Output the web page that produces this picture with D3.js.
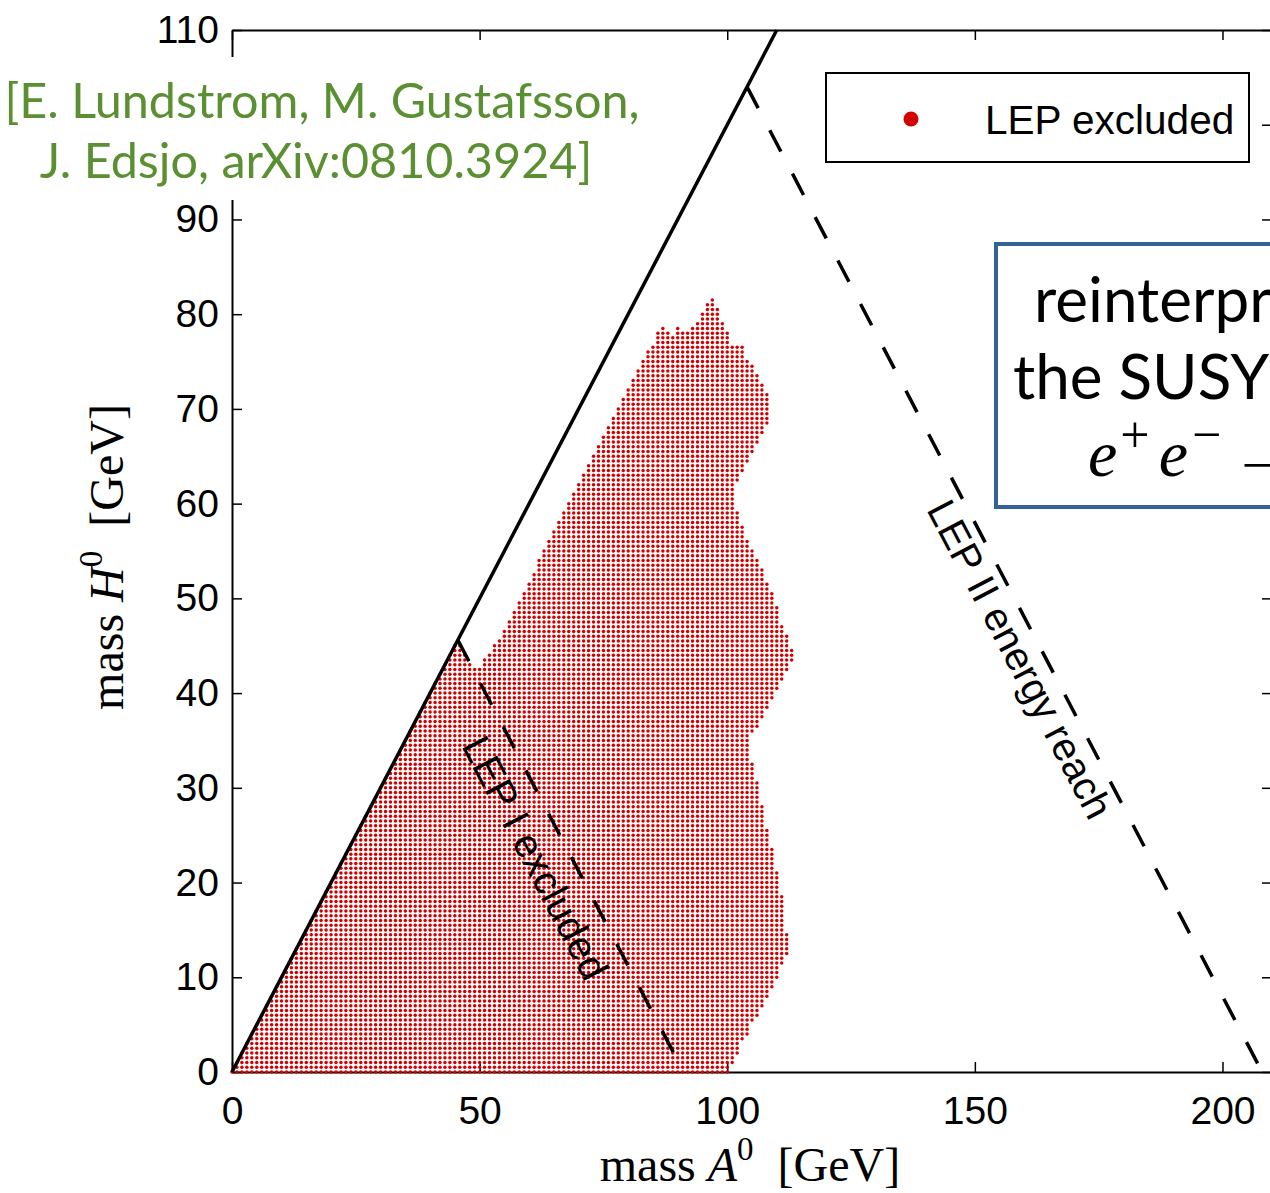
<!DOCTYPE html>
<html>
<head>
<meta charset="utf-8">
<script src="https://cdn.jsdelivr.net/npm/d3@7"></script>
<style>
  body { margin: 0; background: #fff; }
  svg { display: block; }
  .tick text { font-family: "Liberation Sans", Arial, sans-serif; font-size: 39px; fill: #000; }
</style>
</head>
<body>
<div id="chart"></div>
<script>
// chart size
let width = 1270;
let height = 1193;

// axes data
let xTicks = [0, 50, 100, 150, 200];
let yTicks = [0, 10, 20, 30, 40, 50, 60, 70, 80, 90, 100, 110];

// outline of the LEP excluded scan region, [mass A0, mass H0] in GeV
let bottomEdge = [[-0.3, 0], [100.3, 0]];
let rightEdge = [
  [101.3, 1], [102.3, 2], [102.8, 3], [104.3, 4], [104.8, 5], [106.3, 6], [107.3, 7],
  [108.3, 8], [109.3, 9], [110.3, 10], [110.8, 11], [111.8, 12], [112.3, 13], [112.6, 14],
  [112.0, 15], [112.0, 16], [111.3, 17], [111.3, 18], [110.8, 19], [110.6, 20], [110.3, 21],
  [109.7, 22], [109.3, 23], [108.9, 24], [108.3, 25], [107.9, 26], [107.6, 27], [107.1, 28],
  [106.9, 29], [106.6, 30], [105.9, 31], [105.5, 32], [104.9, 33], [104.3, 34], [104.5, 35],
  [105.5, 36], [106.6, 37], [107.6, 38], [108.6, 39], [109.6, 40], [110.6, 41], [111.9, 42],
  [112.9, 43], [113.3, 44], [113.0, 45], [112.3, 46], [111.3, 47], [110.6, 48], [110.1, 49],
  [109.6, 50], [108.7, 51], [107.9, 52], [107.3, 53], [106.3, 54], [105.3, 55], [104.3, 56],
  [103.4, 57], [102.9, 58], [102.1, 59], [101.9, 60], [101.5, 61], [101.9, 62], [102.8, 63],
  [103.7, 64], [104.9, 65], [105.9, 66], [106.9, 67], [107.9, 68], [108.9, 69], [108.9, 70],
  [108.9, 71], [107.9, 72], [106.9, 73], [105.9, 74], [104.9, 75]
];
let topEdge = [
  [103.3, 75.8], [103.3, 76.7], [100.3, 76.8], [100.3, 78.2], [99.3, 78.7], [99.3, 79.2],
  [98.3, 79.4], [98.3, 80.7], [97.3, 80.8], [97.3, 81.7], [96.7, 81.7], [95.7, 81.1],
  [95.7, 80.7], [94.7, 80.2], [94.7, 79.7], [93.7, 79.2], [92.7, 78.7], [92.2, 78.2],
  [91.3, 78.2], [90.3, 78.7], [89.7, 78.7], [89.5, 77.8], [88.4, 78.2], [87.3, 78.7],
  [86.7, 78.7], [85.7, 77.7]
];
let leftEdge = [
  [85.7, 77.2], [83.7, 76.2], [82.7, 75], [74.0, 66], [62.0, 54], [58.2, 50],
  [54.6, 46.3], [52.2, 44.6], [50.4, 43], [49.6, 42.2]
];
let notchEdge = [[48.6, 42.7], [47.2, 44], [46.1, 45.1], [45.6, 45.9]];

// grid spacing of the scan points
let stepA = 1;
let stepH = 0.5;

// lines: kinematic edge, LEP I (Z mass) and LEP II (208 GeV) reach
let kinLine = [[0, 0], [110, 110]];
let lepI = [[45.6, 45.6], [91.2, 0]];
let lepII = [[104, 104], [208, 0]];

// scales
let xScale = d3.scaleLinear().domain([0, 210]).range([232, 1272]);
let yScale = d3.scaleLinear().domain([0, 110]).range([1072, 30]);

let svg = d3.select("#chart")
  .append("svg")
  .attr("width", width)
  .attr("height", height);

//-------  axes box -------------------------
function styleAxis(g) {
  g.select(".domain").attr("stroke", "#000").attr("stroke-width", 2);
  g.selectAll(".tick line").attr("stroke", "#000").attr("stroke-width", 1.5);
}

svg.append("g")
  .attr("transform", "translate(0," + yScale(0) + ")")
  .call(d3.axisBottom(xScale).tickValues(xTicks).tickSize(-10).tickSizeOuter(0).tickPadding(24))
  .call(styleAxis);

svg.append("g")
  .attr("transform", "translate(0," + yScale(110) + ")")
  .call(d3.axisTop(xScale).tickValues(xTicks).tickSize(-10).tickSizeOuter(0).tickFormat(""))
  .call(styleAxis);

// the 100 label sits under the reference note, so it is left blank
svg.append("g")
  .attr("transform", "translate(" + xScale(0) + ",0)")
  .call(d3.axisLeft(yScale).tickValues(yTicks).tickSize(-10).tickSizeOuter(0).tickPadding(13)
    .tickFormat(d => d === 100 ? "" : d))
  .call(styleAxis);

svg.append("g")
  .attr("transform", "translate(" + xScale(210) + ",0)")
  .call(d3.axisRight(yScale).tickValues(yTicks).tickSize(-10).tickSizeOuter(0).tickFormat(""))
  .call(styleAxis);

svg.selectAll(".tick text").attr("font-family", null).attr("font-size", null);

//-------  excluded scan points -------------------------
let region = [].concat(bottomEdge, rightEdge, topEdge, leftEdge, notchEdge, [[-0.3, 0]]);
let points = [];
for (let a = 0; a <= 116; a += stepA) {
  for (let k = 0; k * stepH <= 83; k++) {
    let h = k * stepH;
    if (d3.polygonContains(region, [a, h])) points.push([a, h]);
  }
}

svg.append("g")
  .selectAll("circle")
  .data(points)
  .join("circle")
  .attr("cx", d => xScale(d[0]))
  .attr("cy", d => yScale(d[1]))
  .attr("r", 1.75)
  .attr("fill", "#d40000");

//-------  lines -------------------------
function drawLine(seg, dash) {
  svg.append("line")
    .attr("x1", xScale(seg[0][0])).attr("y1", yScale(seg[0][1]))
    .attr("x2", xScale(seg[1][0])).attr("y2", yScale(seg[1][1]))
    .attr("stroke", "#000")
    .attr("stroke-width", 3.5)
    .attr("stroke-dasharray", dash);
}
drawLine(kinLine, null);
drawLine(lepI, "24,25");
drawLine(lepII, "24,25");

// label written along a line, sitting below it
function lineLabel(seg, frac, offset, label) {
  let x0 = xScale(seg[0][0]), y0 = yScale(seg[0][1]);
  let x1 = xScale(seg[1][0]), y1 = yScale(seg[1][1]);
  let len = Math.hypot(x1 - x0, y1 - y0);
  let ux = (x1 - x0) / len, uy = (y1 - y0) / len;
  let ang = Math.atan2(uy, ux) * 180 / Math.PI;
  let px = x0 + (x1 - x0) * frac - offset * uy;
  let py = y0 + (y1 - y0) * frac + offset * ux;
  svg.append("text")
    .attr("transform", "translate(" + px + "," + py + ")rotate(" + ang + ")")
    .attr("text-anchor", "middle")
    .attr("font-family", "Liberation Sans, Arial, sans-serif")
    .attr("font-size", 40)
    .text(label);
}
lineLabel(lepI, 0.47, 46, "LEP I excluded");
lineLabel(lepII, 0.57, 37, "LEP II energy reach");

//-------  axis titles -------------------------
function axisTitle(g, symbol) {
  g.attr("text-anchor", "middle")
    .attr("font-family", "Liberation Serif, Times New Roman, serif")
    .attr("font-size", 48);
  g.append("tspan").text("mass ");
  g.append("tspan").attr("font-style", "italic").text(symbol);
  g.append("tspan").attr("font-size", 33).attr("dy", -21).text("0");
  g.append("tspan").attr("dy", 21).text("\u2002[GeV]");
}
axisTitle(svg.append("text").attr("x", 750).attr("y", 1181), "A");
axisTitle(svg.append("text").attr("transform", "translate(123,557)rotate(-90)"), "H");

//-------  legend -------------------------
svg.append("rect")
  .attr("x", 826).attr("y", 73).attr("width", 423).attr("height", 89)
  .attr("fill", "#fff").attr("stroke", "#000").attr("stroke-width", 2);
svg.append("circle").attr("cx", 911).attr("cy", 119).attr("r", 7.5).attr("fill", "#d40000");
svg.append("text")
  .attr("x", 985).attr("y", 134)
  .attr("font-family", "Liberation Sans, Arial, sans-serif")
  .attr("font-size", 40.5)
  .text("LEP excluded");

//-------  reference note -------------------------
svg.append("rect").attr("x", 0).attr("y", 57).attr("width", 658).attr("height", 143).attr("fill", "#fff");
let note = svg.append("text")
  .attr("text-anchor", "middle")
  .attr("font-family", "Lato, sans-serif")
  .attr("font-size", 48.5)
  .attr("fill", "#5a8f32");
note.append("tspan").attr("x", 322).attr("y", 118).text("[E. Lundstrom, M. Gustafsson,");
note.append("tspan").attr("x", 316).attr("y", 178).text("J. Edsjo, arXiv:0810.3924]");

//-------  boxed comment (runs past the right edge) -------------------------
svg.append("rect")
  .attr("x", 996).attr("y", 244).attr("width", 400).attr("height", 263)
  .attr("fill", "#fff").attr("stroke", "#336296").attr("stroke-width", 4);
let box = svg.append("g").attr("font-family", "Lato, sans-serif").attr("font-size", 62);
box.append("text").attr("x", 1034).attr("y", 322).text("reinterpreting");
box.append("text").attr("x", 1013).attr("y", 399).text("the SUSY search");
let ee = box.append("text")
  .attr("x", 1088).attr("y", 476)
  .attr("font-family", "Liberation Serif, serif")
  .attr("font-size", 66);
ee.append("tspan").attr("font-style", "italic").text("e");
ee.append("tspan").attr("font-size", 52).attr("dx", 3).attr("dy", -24).text("+");
ee.append("tspan").attr("font-style", "italic").attr("dx", 9).attr("dy", 24).text("e");
ee.append("tspan").attr("font-size", 52).attr("dx", 4).attr("dy", -24).text("\u2212");
ee.append("tspan").attr("dx", 10).attr("dy", 24).text("\u2192 A");
</script>
</body>
</html>
